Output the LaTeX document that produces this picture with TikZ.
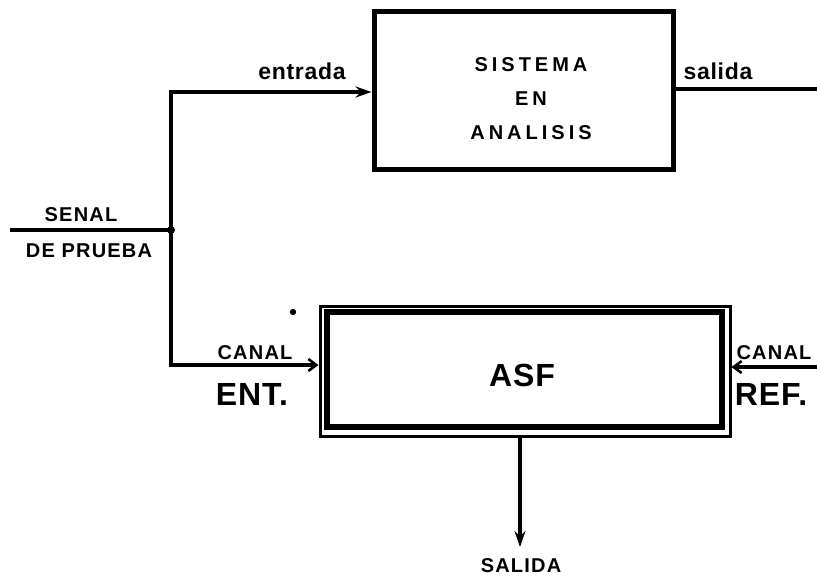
\documentclass[tikz,border=0pt]{standalone}
\usepackage{fontspec}
\setmainfont{Liberation Sans}
\newfontfamily\lettW[LetterSpace=20]{Liberation Sans}
\newfontfamily\lettM[LetterSpace=6]{Liberation Sans}
\newfontfamily\lettN[LetterSpace=3]{Liberation Sans}
\usetikzlibrary{arrows.meta}
\begin{document}
\begin{tikzpicture}[x=1pt,y=-1pt,
  wire/.style={line width=3.4pt},
  lbl/.style={inner sep=0pt,anchor=center},
  small/.style={lbl,font=\lettM\bfseries\fontsize{20}{22}\selectfont},
  big/.style={lbl,font=\lettN\bfseries\fontsize{32}{34}\selectfont},
  lower/.style={lbl,font=\lettN\bfseries\fontsize{23}{25}\selectfont},
  barb/.style={-{Straight Barb[length=8pt,width=12pt,line width=2.6pt]}},
  stl/.style={-{Stealth[length=16pt,width=11pt]}}]
\useasboundingbox (0,0) rectangle (817,576);
% system box
\node[draw,line width=5pt,minimum width=299pt,minimum height=158pt,inner sep=0pt] (sys) at (523.5,90) {};
\node[lbl,font=\lettW\bfseries\fontsize{20}{34}\selectfont,align=center] (systxt) at (531,99) {SISTEMA\\EN\\ANALISIS};
% ASF box
\node[draw,line width=3pt,minimum width=410pt,minimum height=130pt,inner sep=0pt] (asfo) at (525,371) {};
\node[draw,line width=6pt,minimum width=395pt,minimum height=115pt,inner sep=0pt] (asf) at (524.5,369.5) {};
\node[big] (asftxt) at (522,375) {ASF};
% coordinates
\coordinate (sl) at (10,230);
\coordinate (j) at (171,230);
\coordinate (top) at (171,92);
\coordinate (bot) at (171,365);
\coordinate (sysin) at (sys.west |- top);
\coordinate (asfin) at (asfo.west |- bot);
\coordinate (outR) at (817,89);
\coordinate (refR) at (817,367);
\coordinate (asfout) at (520,436);
\coordinate (sdown) at (520,547);
% wires
\draw[wire] (sl) -- (j);
\draw[wire,stl] (j) -- (top) -- (sysin);
\draw[wire,barb] (j) -- (bot) -- (asfin);
\fill (j) circle (4pt);
\draw[wire] (sys.east |- outR) -- (outR);
\draw[wire,barb] (refR) -- (refR -| asfo.east);
\draw[wire,stl] (asfout) -- (sdown);
\fill (293,312) circle (3.2pt);
% labels
\node[lower] (entrada) at (302,71) {entrada};
\node[lower] (salida) at (718,71) {salida};
\node[small] (senal) at (81,215) {SENAL};
\node[small] (prueba) at (89,251) {DE PRUEBA};
\node[small] (canal1) at (255,353) {CANAL};
\node[big] (ent) at (252,394) {ENT.};
\node[small] (canal2) at (774,353) {CANAL};
\node[big] (ref) at (771,394) {REF.};
\node[small] (salidab) at (521,566) {SALIDA};
\end{tikzpicture}
\end{document}
